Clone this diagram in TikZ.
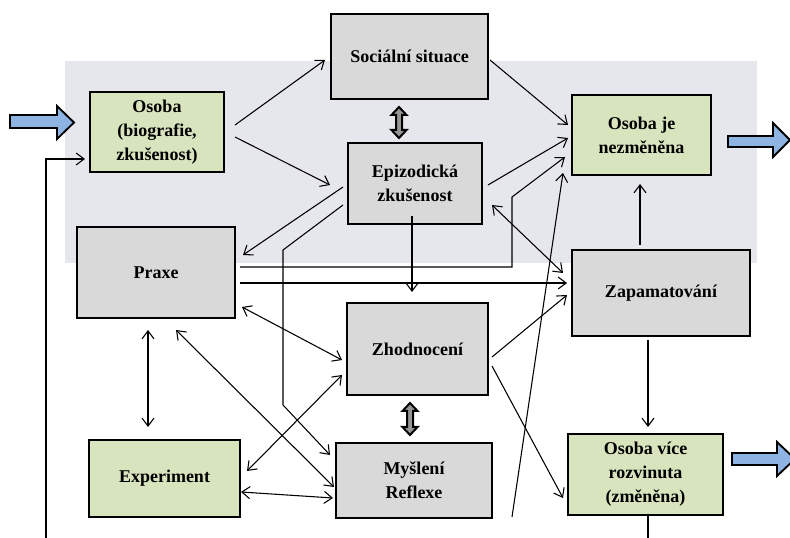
\documentclass[tikz,border=0pt]{standalone}
\usepackage{fontspec}
\setmainfont{Liberation Serif}
\usetikzlibrary{arrows.meta,calc}

\definecolor{bgshade}{RGB}{230,230,237}
\definecolor{boxgray}{RGB}{217,217,217}
\definecolor{boxgreen}{RGB}{215,228,189}
\definecolor{arrowblue}{RGB}{142,180,227}
\definecolor{swapgray}{RGB}{150,150,150}

\begin{document}
\begin{tikzpicture}[x=0.75pt, y=-0.75pt,
                stage/.style={rectangle, draw, line width=1.6pt, fill=boxgray, align=center, inner sep=2pt, outer sep=0pt, font=\fontsize{13.5}{18}\selectfont\bfseries},
                person/.style={stage, fill=boxgreen},
                link/.style={line width=0.8pt, -{Straight Barb[length=6pt,width=9pt]}},
                twoway/.style={line width=0.8pt, {Straight Barb[length=6pt,width=9pt]}-{Straight Barb[length=6pt,width=9pt]}},
                bigarrow/.style={draw, line width=1.4pt, fill=arrowblue},
                swap/.style={draw, line width=1.5pt, fill=swapgray}
            ]
                \clip (0,0) rectangle (790,538);
                \fill[bgshade] (65,61) rectangle (757,263);

                \node[person, minimum width=100.5pt, minimum height=60pt] (osoba) at (157,132) {Osoba\\(biografie,\\zkušenost)};
                \node[stage, minimum width=117.75pt, minimum height=63.75pt] (social) at (409.5,56.5) {Sociální situace};
                \node[stage, minimum width=100.5pt, minimum height=60.75pt] (epi) at (415,183.5) {Epizodická\\zkušenost};
                \node[person, minimum width=104.25pt, minimum height=60pt] (nezm) at (641.5,135) {Osoba je\\nezměněna};
                \node[stage, minimum width=118.5pt, minimum height=68.25pt] (praxe) at (156,272.5) {Praxe};
                \node[stage, minimum width=133.5pt, minimum height=64.5pt] (zap) at (661,293) {Zapamatování};
                \node[stage, minimum width=105.75pt, minimum height=69pt] (zhod) at (417.5,349) {Zhodnocení};
                \node[stage, minimum width=117pt, minimum height=56.25pt] (mysl) at (414,480.5) {Myšlení\\Reflexe};
                \node[person, minimum width=113.25pt, minimum height=57.75pt] (exper) at (164.5,478.5) {Experiment};
                \node[person, minimum width=116.25pt, minimum height=60.75pt] (rozv) at (645.5,474.5) {Osoba více\\rozvinuta\\(změněna)};

                \draw[bigarrow] (10,115) -- (57,115) -- (57,106) -- (74,122.5) -- (57,139) -- (57,128) -- (10,128) -- cycle;
                \draw[bigarrow] (728,136) -- (773,136) -- (773,123) -- (790,140) -- (773,157) -- (773,147) -- (728,147) -- cycle;
                \draw[bigarrow] (732,453) -- (777,453) -- (777,442) -- (795,459) -- (777,476) -- (777,465) -- (732,465) -- cycle;

                \draw[swap] (399,107) -- (406.5,115) -- (402,115) -- (402,130) -- (406.5,130) -- (399,138) -- (391.5,130) -- (396,130) -- (396,115) -- (391.5,115) -- cycle;
                \draw[swap] (410,403) -- (417.5,411) -- (413,411) -- (413,427) -- (417.5,427) -- (410,435) -- (402.5,427) -- (407,427) -- (407,411) -- (402.5,411) -- cycle;

                \coordinate (loopin) at (46,538);
                \coordinate (loopout) at (648,538);
                \coordinate (longfoot) at (512,517);

                \draw[link] ($(osoba.east)+(11,-7)$) -- ($(social.west)+(-6,3.5)$);
                \draw[link] ($(osoba.east)+(11,5)$) -- ($(epi.west)+(-18,1.5)$);
                \draw[link] ($(social.east)+(2,3.5)$) -- ($(nezm.west)+(-4,-10)$);
                \draw[link] ($(epi.east)+(6,1.5)$) -- ($(nezm.west)+(-4,3)$);
                \draw[link] ($(epi.west)+(-5,3.5)$) -- ($(praxe.east)+(8,-17.5)$);
                \draw[link] ($(epi.west)+(-5,21.5)$) -- ++(-60,45) -- ++(0,155) -- ($(mysl.west)+(-6,-25.5)$);
                \draw[link] ($(praxe.east)+(5,-5.5)$) -- ++(272,0) -- ++(0,-70) -- ($(nezm.west)+(-7,22)$);
                \draw[link] ($(praxe.east)+(5,10.5)$) -- ($(zap.west)+(-5,-10)$);
                \draw[link] ($(epi.south)+(-3,-8)$) -- ($(zhod.north)+(-5.5,-11)$);
                \draw[twoway] ($(epi.east)+(10,21.5)$) -- ($(zap.west)+(-9,-20)$);
                \draw[link] (longfoot) -- ($(nezm.south west)+(-9,-2)$);
                \draw[link] ($(zap.north)+(-21,-5)$) -- ($(nezm.south)+(-1.5,9)$);
                \draw[link] ($(zap.south)+(-13,4)$) -- ($(rozv.north)+(2.5,-7)$);
                \draw[link] ($(zhod.east)+(4,8)$) -- ($(zap.west)+(-5,2)$);
                \draw[link] ($(zhod.east)+(4,17)$) -- ($(rozv.west)+(-5,23.5)$);
                \draw[twoway] ($(praxe.east)+(7,34.5)$) -- ($(zhod.west)+(-5,11)$);
                \draw[twoway] ($(praxe.south)+(-8,12)$) -- ($(exper.north)+(-16.5,-13)$);
                \draw[twoway] ($(praxe.south)+(20,12)$) -- ($(mysl.west)+(-2,6.5)$);
                \draw[twoway] ($(exper.east)+(7,-7.5)$) -- ($(zhod.west)+(-5,26)$);
                \draw[twoway] ($(exper.east)+(1,13.5)$) -- ($(mysl.west)+(-3,17.5)$);
                \draw[link] (loopin) |- ($(osoba.west)+(-5,27)$);
                \draw[line width=0.8pt] ($(rozv.south)+(2.5,0)$) -- (loopout);
            \end{tikzpicture}
\end{document}
